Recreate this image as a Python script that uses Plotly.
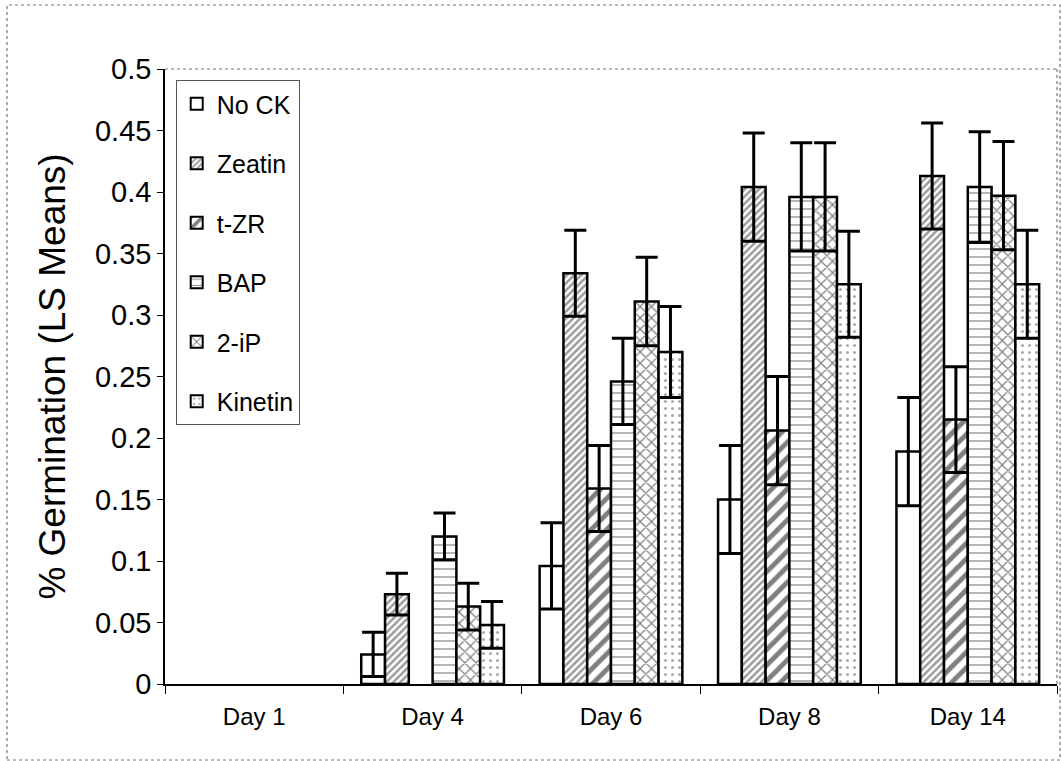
import plotly.graph_objects as go

days = ["Day 1", "Day 4", "Day 6", "Day 8", "Day 14"]

no_ck   = [0, 0.024, 0.096, 0.150, 0.189]
zeatin  = [0, 0.073, 0.334, 0.404, 0.413]
t_zr    = [0, 0.0,   0.159, 0.206, 0.215]
bap     = [0, 0.120, 0.246, 0.396, 0.404]
two_ip  = [0, 0.063, 0.311, 0.396, 0.397]
kinetin = [0, 0.048, 0.270, 0.325, 0.325]

no_ck_se   = [0, 0.018, 0.035, 0.044, 0.044]
zeatin_se  = [0, 0.017, 0.035, 0.044, 0.043]
t_zr_se    = [0, 0.0,   0.035, 0.044, 0.043]
bap_se     = [0, 0.019, 0.035, 0.044, 0.045]
two_ip_se  = [0, 0.019, 0.036, 0.044, 0.044]
kinetin_se = [0, 0.019, 0.037, 0.043, 0.044]

series = [
    ("No CK", no_ck, no_ck_se, dict(shape="")),
    ("Zeatin", zeatin, zeatin_se, dict(shape="/", size=5, solidity=0.5, fgcolor="#3a3a3a", bgcolor="white")),
    ("t-ZR", t_zr, t_zr_se, dict(shape="/", size=11, solidity=0.45, fgcolor="black", bgcolor="white")),
    ("BAP", bap, bap_se, dict(shape="-", size=8, solidity=0.18, fgcolor="#333333", bgcolor="white")),
    ("2-iP", two_ip, two_ip_se, dict(shape="x", size=8, solidity=0.28, fgcolor="black", bgcolor="white")),
    ("Kinetin", kinetin, kinetin_se, dict(shape=".", size=7, solidity=0.15, fgcolor="#555555", bgcolor="white")),
]

font_family = "Arial, Liberation Sans, sans-serif"

fig = go.Figure()
for name, vals, errs, pat in series:
    # a zero mean leaves the slot empty (no bar, no whisker)
    shown = [v if v > 0 else None for v in vals]
    fig.add_trace(go.Bar(
        x=days, y=shown, name=name, legendgroup=name,
        marker=dict(color="white", pattern=pat, line=dict(color="black", width=2.5)),
        error_y=dict(type="data", array=errs, visible=True, color="black", thickness=3, width=11),
    ))

fig.update_layout(
    width=1062, height=761,
    margin=dict(l=165, r=5, t=69, b=77),
    paper_bgcolor="white", plot_bgcolor="white",
    barmode="group", bargap=0.2, bargroupgap=0,
    font=dict(family=font_family, color="black"),
    showlegend=True,
    legend=dict(
        x=0.012, y=0.982, xanchor="left", yanchor="top",
        bgcolor="white", bordercolor="#555555", borderwidth=1,
        font=dict(size=25, family=font_family), tracegroupgap=24,
        itemsizing="constant",
    ),
    xaxis=dict(
        showline=True, linecolor="black", linewidth=1.5,
        ticks="outside", tickson="boundaries", ticklen=8, tickcolor="black",
        tickfont=dict(size=24), showgrid=False, mirror=False,
        ticklabelstandoff=10,
    ),
    yaxis=dict(
        range=[0, 0.5], dtick=0.05, showline=True, linecolor="black", linewidth=1.5,
        ticks="outside", ticklen=6, tickcolor="black", tickfont=dict(size=29),
        showgrid=False, zeroline=False,
        title=dict(text="% Germination (LS Means)", font=dict(size=37), standoff=18),
    ),
)

# plot-area frame (top and right) and outer chart frame
fig.add_shape(type="line", xref="paper", yref="paper", x0=0, x1=1, y0=1, y1=1,
              line=dict(color="#777777", width=1.2, dash="dot"))
fig.add_shape(type="line", xref="paper", yref="paper", x0=1, x1=1, y0=0, y1=1,
              line=dict(color="#777777", width=1.2, dash="dot"))
fig.add_shape(type="rect", xref="paper", yref="paper",
              x0=(7 - 165) / 892, x1=(1060 - 165) / 892,
              y0=-(760 - 684) / 615, y1=1 + (69 - 5) / 615,
              line=dict(color="#777777", width=1.2, dash="dot"))

fig.write_html("out.html")
